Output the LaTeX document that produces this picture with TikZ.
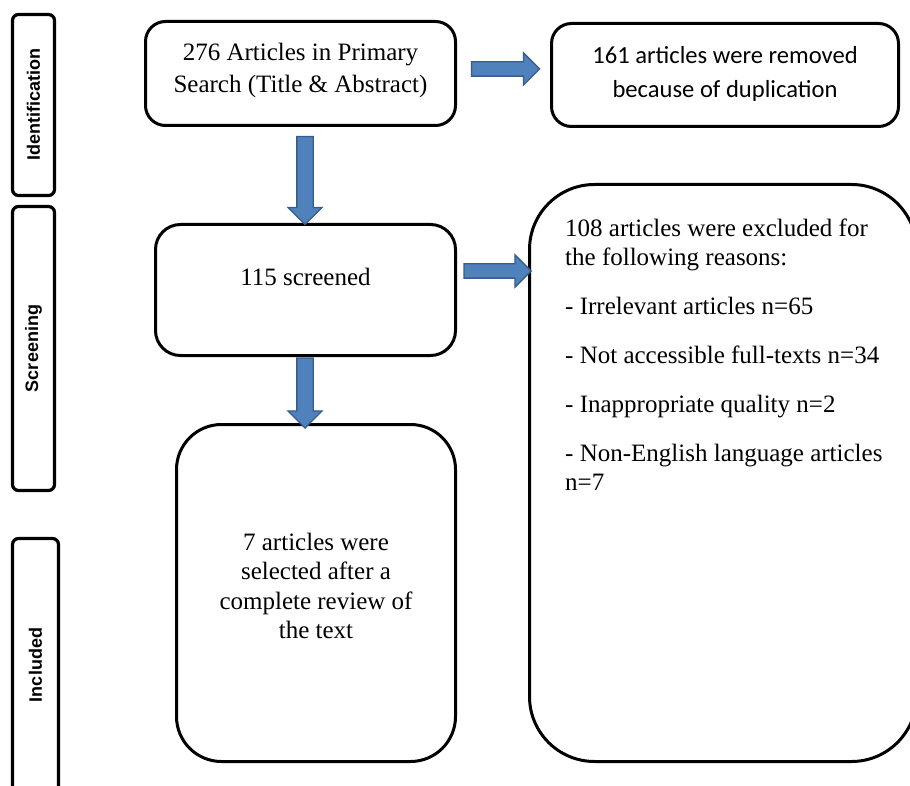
\documentclass[tikz,border=0pt]{standalone}
\usepackage{fontspec}
\setmainfont{Liberation Serif}
\newfontfamily\calibrifont{Carlito}
\newfontfamily\arialfont{Liberation Sans}
\usetikzlibrary{shapes.arrows}
\definecolor{arrowfill}{RGB}{79,129,189}
\definecolor{arrowedge}{RGB}{56,93,138}
\begin{document}
\begin{tikzpicture}[x=1pt,y=-1pt,
  box/.style={draw, line width=3pt, inner sep=0pt},
  sidebox/.style={draw, line width=3.2pt, rounded corners=6pt, inner sep=0pt, minimum width=42pt},
  sidelabel/.style={font=\arialfont\bfseries\fontsize{18}{20}\selectfont, rotate=90, inner sep=0pt},
  serif/.style={font=\fontsize{25}{29.5}\selectfont, align=center, inner sep=0pt},
  blockarrow/.style={single arrow, draw=arrowedge, fill=arrowfill, line width=1.3pt,
    inner xsep=0pt, text height=0pt, text depth=0pt, text width=0pt,
    single arrow head extend=9pt}]
\useasboundingbox (0,0) rectangle (910,786);
\clip (0,0) rectangle (910,786);
% side boxes
\node[sidebox, minimum height=181pt] (s1) at (33.5,105) {};
\node[sidelabel] (l1) at (s1.center) {Identification};
\node[sidebox, minimum height=284pt] (s2) at (33.5,348.5) {};
\node[sidelabel] (l2) at (s2.center) {Screening};
\node[sidebox, minimum width=46pt, minimum height=253pt] (s3) at (35.5,665) {};
\node[sidelabel] (l3) at (s3.center) {Included};
% main boxes
\node[box, rounded corners=20pt, minimum width=310pt, minimum height=104pt] (b1) at (300.5,73.5) {};
\node[serif, font=\fontsize{25}{32}\selectfont] (t1) at (300.5,70.5)
  {276 Articles in Primary\\Search (Title \& Abstract)};
\node[box, rounded corners=20pt, minimum width=347pt, minimum height=103pt] (b2) at (725,75) {};
\node[font=\calibrifont\fontsize{24.6}{34}\selectfont, align=center, inner sep=0pt] (t2) at (725,74)
  {161 articles were removed\\because of duplication};
\node[box, rounded corners=25pt, minimum width=300pt, minimum height=131pt] (b3) at (305.5,290) {};
\node[serif, anchor=base] (t3) at (305.5,286) {115 screened};
\node[box, rounded corners=45pt, minimum width=279pt, minimum height=337pt] (b4) at (316,593) {};
\node[serif] (t4) at (316,586) {7 articles were\\selected after a\\complete review of\\the text};
\node[box, rounded corners=65pt, minimum width=387pt, minimum height=577pt] (b5) at (723,473) {};
\node[serif, font=\fontsize{25}{29}\selectfont, align=left, anchor=north west] (t5) at (565,219)
  {108 articles were excluded for\\the following reasons:\\[20pt]
   - Irrelevant articles n=65\\[20pt]
   - Not accessible full-texts n=34\\[20pt]
   - Inappropriate quality n=2\\[20pt]
   - Non-English language articles\\n=7};
% block arrows
\node[blockarrow, inner ysep=6.5pt, minimum height=68pt] (a1) at (502,69) {};
\node[blockarrow, rotate=-90, inner ysep=7.5pt, minimum height=88pt] (a2) at (305,176.5) {};
\node[blockarrow, rotate=-90, inner ysep=7.5pt, minimum height=70pt] (a3) at (305,389) {};
\node[blockarrow, inner ysep=6.5pt, minimum height=67pt] (a4) at (494,271) {};
\end{tikzpicture}
\end{document}
